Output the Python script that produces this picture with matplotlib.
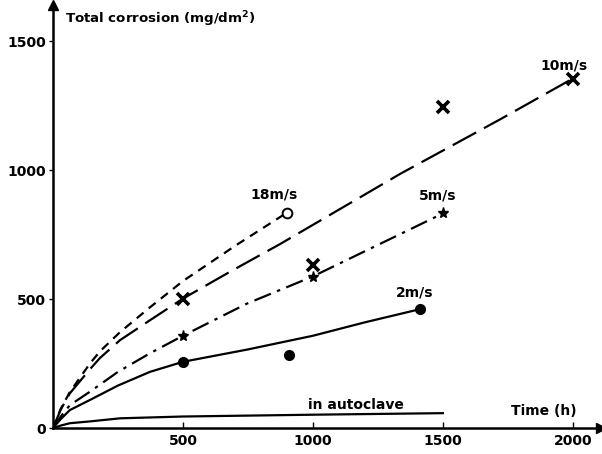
import matplotlib.pyplot as plt

plt.rcParams["font.family"] = ["DejaVu Sans"]

# curves (time in h, corrosion in mg/dm2)
t_18 = [0, 30, 65, 142, 181, 258, 373, 500, 700, 900]
c_18 = [0, 75, 140, 250, 298, 372, 468, 570, 706, 835]

t_10 = [0, 30, 65, 142, 181, 258, 373, 500, 681, 873, 1053, 1335, 1719, 2000]
c_10 = [0, 72, 135, 228, 272, 341, 418, 502, 606, 713, 819, 985, 1196, 1355]

t_5 = [0, 30, 65, 142, 250, 373, 500, 745, 1000, 1250, 1500]
c_5 = [0, 45, 89, 141, 218, 290, 358, 482, 588, 710, 832]

t_2 = [0, 30, 65, 142, 250, 373, 500, 750, 1000, 1200, 1412]
c_2 = [0, 35, 70, 109, 165, 218, 257, 305, 358, 410, 461]

t_auto = [0, 30, 65, 142, 258, 500, 1000, 1500]
c_auto = [0, 10, 19, 26, 38, 45, 52, 58]

# measured points
pts_18_t = [900]
pts_18_c = [835]
pts_10_t = [500, 1000, 1500, 2000]
pts_10_c = [502, 632, 1245, 1355]
pts_5_t = [500, 1000, 1500]
pts_5_c = [358, 586, 832]
pts_2_t = [500, 910, 1412]
pts_2_c = [257, 283, 461]

fig = plt.figure(figsize=(6.02, 4.54), dpi=100)
ax = fig.add_axes([0.088, 0.057, 0.911, 0.932])
ax.set_xlim(0, 2110)
ax.set_ylim(0, 1640)

lw = 1.6
ax.plot(t_18, c_18, color="black", lw=lw, dashes=(4, 3))
ax.plot(t_10, c_10, color="black", lw=lw, dashes=(12, 4))
ax.plot(t_5, c_5, color="black", lw=lw, dashes=(8, 3, 1.5, 3))
ax.plot(t_2, c_2, color="black", lw=lw)
ax.plot(t_auto, c_auto, color="black", lw=lw)

ax.plot(pts_18_t, pts_18_c, "o", ms=7, mfc="white", mec="black", mew=1.4, ls="none")
ax.plot(pts_10_t, pts_10_c, "x", ms=8, mec="black", mew=2.6, ls="none")
ax.plot(pts_5_t, pts_5_c, "*", ms=8, color="black", ls="none")
ax.plot(pts_2_t, pts_2_c, "o", ms=7, color="black", ls="none")

fs = 10
ax.text(850, 880, "18m/s", fontsize=fs, fontweight="bold", ha="center", va="bottom")
ax.text(1965, 1380, "10m/s", fontsize=fs, fontweight="bold", ha="center", va="bottom")
ax.text(1480, 875, "5m/s", fontsize=fs, fontweight="bold", ha="center", va="bottom")
ax.text(1390, 500, "2m/s", fontsize=fs, fontweight="bold", ha="center", va="bottom")
ax.text(1165, 62, "in autoclave", fontsize=fs, fontweight="bold", ha="center", va="bottom")
ax.text(1890, 38, "Time (h)", fontsize=fs, fontweight="bold", ha="center", va="bottom")
ax.text(45, 1585, "Total corrosion (mg/dm$^\\mathbf{2}$)", fontsize=9.6, fontweight="bold",
        ha="left", va="center")

for s in ["top", "right"]:
    ax.spines[s].set_visible(False)
ax.spines["left"].set_linewidth(1.8)
ax.spines["bottom"].set_linewidth(1.8)

ax.set_xticks([500, 1000, 1500, 2000])
ax.set_yticks([0, 500, 1000, 1500])
ax.tick_params(axis="x", direction="in", length=4, width=1, labelsize=fs, pad=4)
ax.tick_params(axis="y", direction="out", length=3, width=1, labelsize=fs, pad=2)
for lab in ax.get_xticklabels() + ax.get_yticklabels():
    lab.set_fontweight("bold")

# arrow heads at the axis ends
ax.plot(1, 0, ">", color="black", ms=7, transform=ax.get_yaxis_transform(), clip_on=False)
ax.plot(0, 1, "^", color="black", ms=7, transform=ax.get_xaxis_transform(), clip_on=False)

fig.savefig("out.png", dpi=100)
